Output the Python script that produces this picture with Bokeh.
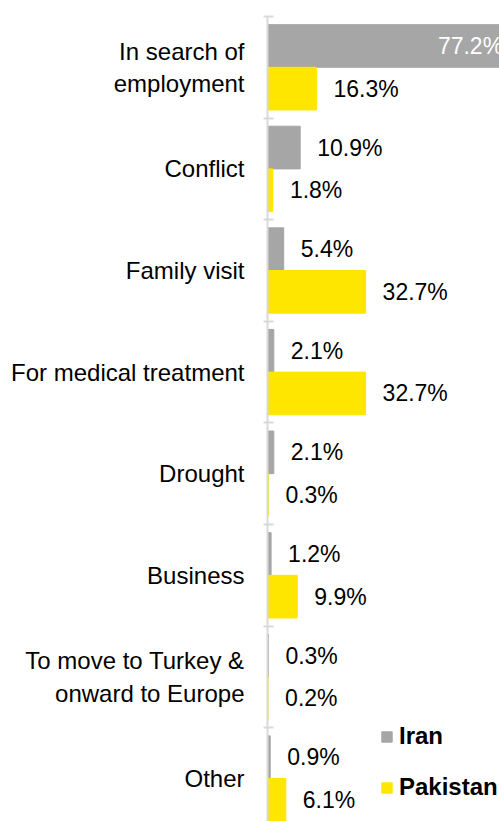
from bokeh.plotting import figure
from bokeh.models import ColumnDataSource, Range1d, FixedTicker, Legend, LegendItem
from bokeh.core.properties import value
from bokeh.embed import file_html
from bokeh.resources import INLINE

# ---- data ----
categories = ["In search of\nemployment", "Conflict", "Family visit",
              "For medical treatment", "Drought", "Business",
              "To move to Turkey &\nonward to Europe", "Other"]
iran = [77.2, 10.9, 5.4, 2.1, 2.1, 1.2, 0.3, 0.9]
pakistan = [16.3, 1.8, 32.7, 32.7, 0.3, 9.9, 0.2, 6.1]
series_names = ["Iran", "Pakistan"]
colors = ["#A6A6A6", "#FFE600"]

FONT = value("Liberation Sans")

idx = list(range(len(categories)))
off = 0.21
bar_h = 0.42

p = figure(width=499, height=821, output_backend="svg", toolbar_location=None,
           x_range=Range1d(0, 77.33), y_range=Range1d(7.423, -0.5),
           x_axis_location=None, y_axis_location="left",
           min_border_left=267, min_border_top=16, min_border_bottom=0,
           min_border_right=0)
p.outline_line_color = None
p.grid.visible = False
p.background_fill_color = "white"
p.border_fill_color = "white"

src = ColumnDataSource(dict(
    y_i=[i - off for i in idx], y_p=[i + off for i in idx],
    iran=iran, pak=pakistan))
r1 = p.hbar(y="y_i", left=0, right="iran", height=bar_h, color=colors[0], source=src)
r2 = p.hbar(y="y_p", left=0, right="pak", height=bar_h, color=colors[1], source=src)

# value labels
out_x, out_y, out_t, in_x, in_y, in_t = [], [], [], [], [], []
for vals, ys in ((iran, src.data["y_i"]), (pakistan, src.data["y_p"])):
    for v, y in zip(vals, ys):
        if v > 50:
            in_x.append(v); in_y.append(y); in_t.append(f"{v:.1f}%")
        else:
            out_x.append(v); out_y.append(y); out_t.append(f"{v:.1f}%")

p.text(x=out_x, y=out_y, text=out_t, text_font=FONT, text_font_size="23px",
       text_align="left", text_baseline="middle", x_offset=17, text_color="black")
p.text(x=in_x, y=in_y, text=in_t, text_font=FONT, text_font_size="23px",
       text_align="right", text_baseline="middle", x_offset=4, text_color="white")

# category axis
ax = p.yaxis[0]
ax.ticker = FixedTicker(ticks=idx, minor_ticks=[i - 0.5 for i in range(len(categories) + 1)])
ax.major_label_overrides = {i: c for i, c in zip(idx, categories)}
ax.major_tick_line_color = None
ax.major_tick_in = 0
ax.major_tick_out = 0
ax.minor_tick_line_color = "#D9D9D9"
ax.minor_tick_line_width = 2
ax.minor_tick_in = 6
ax.minor_tick_out = 4
ax.axis_line_color = "#D9D9D9"
ax.axis_line_width = 2
ax.major_label_standoff = 19
ax.major_label_text_font = "Liberation Sans"
ax.major_label_text_font_size = "24px"
ax.major_label_text_color = "black"

legend = Legend(items=[LegendItem(label=series_names[0], renderers=[r1]),
                       LegendItem(label=series_names[1], renderers=[r2])],
                location=(113, 19), orientation="vertical",
                glyph_width=13, glyph_height=13, label_height=30, spacing=21,
                padding=0, margin=0, border_line_color=None,
                background_fill_alpha=0, label_standoff=6,
                label_text_font="Liberation Sans", label_text_font_size="24px",
                label_text_font_style="bold", label_text_color="black")
p.add_layout(legend)

open("out.html", "w").write(file_html(p, INLINE))
